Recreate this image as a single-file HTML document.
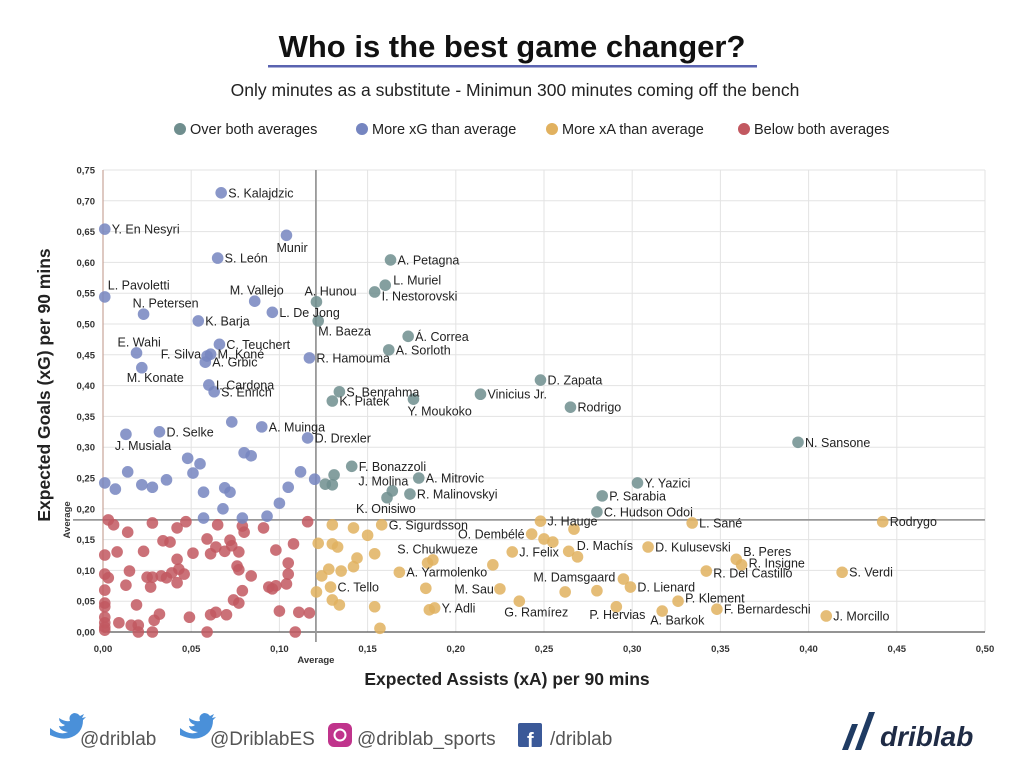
<!DOCTYPE html>
<html><head><meta charset="utf-8"><style>
body{margin:0;width:1024px;height:768px;background:#fff;font-family:"Liberation Sans",sans-serif;overflow:hidden;position:relative}
svg{position:absolute;left:0;top:0}
</style></head><body>
<svg id="chart" width="1024" height="768">
<text x="512" y="57" text-anchor="middle" font-size="31" font-weight="bold" fill="#111">Who is the best game changer?</text>
<rect x="268" y="65" width="489" height="2.5" fill="#5a63b0"/>
<text x="515" y="96" text-anchor="middle" font-size="17.5" fill="#222">Only minutes as a substitute - Minimun 300 minutes coming off the bench</text>
<g id="legend"></g>
<g id="grid"></g><g id="marks"></g><g id="labels"></g>
<text x="507" y="685" text-anchor="middle" font-size="17.5" font-weight="bold" fill="#222">Expected Assists (xA) per 90 mins</text>
<text transform="translate(50,385) rotate(-90)" text-anchor="middle" font-size="17.5" font-weight="bold" fill="#222">Expected Goals (xG) per 90 mins</text>
<g font-size="19" fill="#555">
<path d="M50 728 q10 8 18 4 q-8 -1 -9 -6 q4 1 6 -1 q-6 -2 -6 -7 q6 4 11 3 q-2 -6 4 -8 q4 0 6 3 l4 -2 l-2 4 l4 -1 l-3 3 q0 14 -14 18 q-8 2 -19 -3z" fill="#4a90d9"/>
<text x="80" y="745">@driblab</text>
<path d="M180 728 q10 8 18 4 q-8 -1 -9 -6 q4 1 6 -1 q-6 -2 -6 -7 q6 4 11 3 q-2 -6 4 -8 q4 0 6 3 l4 -2 l-2 4 l4 -1 l-3 3 q0 14 -14 18 q-8 2 -19 -3z" fill="#4a90d9"/>
<text x="210" y="745">@DriblabES</text>
<rect x="328" y="723" width="24" height="24" rx="6" fill="#c0348c"/>
<circle cx="340" cy="735" r="5.5" fill="none" stroke="#fff" stroke-width="2"/>
<text x="357" y="745">@driblab_sports</text>
<rect x="518" y="723" width="24" height="24" rx="2" fill="#3b5998"/>
<text x="527" y="747" font-size="20" font-weight="bold" fill="#fff">f</text>
<text x="550" y="745">/driblab</text>
<path d="M842 750 l10 -26 l6 0 l-10 26z M855 750 l14 -38 l6 0 l-14 38z" fill="#1f3b63"/>
<text x="880" y="746" font-size="28" font-weight="bold" font-style="italic" fill="#1f2b45">driblab</text>
</g>
</svg>
<script>
const NS="http://www.w3.org/2000/svg";
const xTicks=[0,0.05,0.10,0.15,0.20,0.25,0.30,0.35,0.40,0.45,0.50];
const yTicks=[0,0.05,0.10,0.15,0.20,0.25,0.30,0.35,0.40,0.45,0.50,0.55,0.60,0.65,0.70,0.75];
const avgX=0.1207, avgY=0.182;
const groups=["Over both averages","More xG than average","More xA than average","Below both averages"];
const groupColors=["#6f8e8e","#7585c0","#e1b15f","#c25860"];
// [xA, xG, label]
const teal=[[.121,.536,"A. Hunou"],[.163,.604,"A. Petagna"],[.160,.563,"L. Muriel"],[.154,.552,"I. Nestorovski"],[.122,.505,"M. Baeza"],[.173,.480,"Á. Correa"],[.162,.458,"A. Sorloth"],[.134,.390,"S. Benrahma"],[.130,.375,"K. Piatek"],[.248,.409,"D. Zapata"],[.214,.386,"Vinicius Jr."],[.176,.378,"Y. Moukoko"],[.265,.365,"Rodrigo"],[.394,.308,"N. Sansone"],[.141,.269,"F. Bonazzoli"],[.131,.255,""],[.130,.239,"J. Molina"],[.126,.240,""],[.179,.250,"A. Mitrovic"],[.174,.224,"R. Malinovskyi"],[.164,.229,""],[.161,.218,"K. Onisiwo"],[.303,.242,"Y. Yazici"],[.283,.221,"P. Sarabia"],[.280,.195,"C. Hudson Odoi"]];
const blue=[[.067,.713,"S. Kalajdzic"],[.001,.654,"Y. En Nesyri"],[.104,.644,"Munir"],[.065,.607,"S. León"],[.001,.544,"L. Pavoletti"],[.023,.516,"N. Petersen"],[.086,.537,"M. Vallejo"],[.096,.519,"L. De Jong"],[.054,.505,"K. Barja"],[.066,.467,"C. Teuchert"],[.019,.453,"E. Wahi"],[.059,.448,"F. Silva"],[.061,.451,"M. Koné"],[.058,.438,"A. Grbic"],[.022,.429,"M. Konate"],[.117,.445,"R. Hamouma"],[.060,.401,"I. Cardona"],[.063,.390,"S. Enrich"],[.090,.333,"A. Muinga"],[.116,.315,"D. Drexler"],[.032,.325,"D. Selke"],[.013,.321,"J. Musiala"],[.073,.341,""],[.001,.242,""],[.007,.232,""],[.014,.260,""],[.022,.239,""],[.028,.235,""],[.036,.247,""],[.048,.282,""],[.055,.273,""],[.051,.258,""],[.057,.227,""],[.069,.234,""],[.072,.227,""],[.068,.200,""],[.080,.291,""],[.084,.286,""],[.057,.185,""],[.079,.185,""],[.093,.188,""],[.100,.209,""],[.105,.235,""],[.112,.260,""],[.120,.248,""]];
const orange=[[.130,.174,""],[.142,.169,""],[.150,.157,""],[.158,.174,"G. Sigurdsson"],[.122,.144,""],[.130,.143,""],[.133,.138,""],[.154,.127,""],[.144,.120,""],[.142,.106,""],[.135,.099,""],[.128,.102,""],[.124,.091,""],[.121,.065,""],[.129,.073,"C. Tello"],[.130,.052,""],[.134,.044,""],[.154,.041,""],[.157,.006,""],[.168,.097,"A. Yarmolenko"],[.183,.071,""],[.184,.112,"S. Chukwueze"],[.187,.117,""],[.185,.036,""],[.188,.039,"Y. Adli"],[.221,.109,""],[.225,.070,"M. Sau"],[.236,.050,"G. Ramírez"],[.232,.130,"J. Felix"],[.243,.159,"O. Dembélé"],[.248,.180,"J. Hauge"],[.250,.151,""],[.255,.146,""],[.267,.167,""],[.264,.131,"D. Machís"],[.269,.122,""],[.295,.086,"M. Damsgaard"],[.262,.065,""],[.280,.067,""],[.299,.073,"D. Lienard"],[.291,.041,"P. Hervias"],[.317,.034,"A. Barkok"],[.326,.050,"P. Klement"],[.309,.138,"D. Kulusevski"],[.334,.177,"L. Sané"],[.348,.037,"F. Bernardeschi"],[.342,.099,"R. Del Castillo"],[.359,.118,"B. Peres"],[.362,.109,"R. Insigne"],[.419,.097,"S. Verdi"],[.410,.026,"J. Morcillo"],[.442,.179,"Rodrygo"]];
const red=[[.003,.182],[.006,.174],[.014,.162],[.028,.177],[.042,.169],[.047,.179],[.065,.174],[.079,.172],[.080,.162],[.091,.169],[.116,.179],[.034,.148],[.038,.146],[.059,.151],[.072,.149],[.073,.140],[.064,.138],[.061,.127],[.077,.130],[.098,.133],[.108,.143],[.001,.125],[.008,.130],[.023,.131],[.051,.128],[.069,.131],[.042,.118],[.105,.112],[.105,.094],[.076,.107],[.077,.101],[.001,.094],[.003,.088],[.015,.099],[.013,.076],[.025,.089],[.028,.089],[.033,.091],[.036,.088],[.039,.096],[.042,.080],[.043,.102],[.046,.094],[.027,.073],[.084,.091],[.094,.073],[.096,.070],[.098,.075],[.104,.078],[.079,.067],[.001,.068],[.001,.047],[.001,.041],[.001,.024],[.001,.015],[.001,.008],[.001,.003],[.019,.044],[.032,.029],[.029,.019],[.016,.011],[.020,.011],[.009,.015],[.020,.000],[.028,.000],[.049,.024],[.061,.028],[.064,.032],[.070,.028],[.074,.052],[.077,.047],[.059,.000],[.100,.034],[.111,.032],[.117,.031],[.109,.000]];
// label placement: [dx, dy, anchor]
const labelPlace={"Munir":[-10,12,"start"],"L. Pavoletti":[3,-12,"start"],"N. Petersen":[-11,-11,"start"],"M. Vallejo":[-25,-11,"start"],"E. Wahi":[-19,-11,"start"],"F. Silva":[-6,-2,"end"],"M. Konate":[-15,10,"start"],"J. Musiala":[-11,11,"start"],"A. Hunou":[-12,-11,"start"],"L. Muriel":[8,-5,"start"],"I. Nestorovski":[7,4,"start"],"M. Baeza":[0,10,"start"],"Y. Moukoko":[-6,12,"start"],"J. Molina":[26,-4,"start"],"K. Onisiwo":[-31,11,"start"],"O. Dembélé":[-7,0,"end"],"D. Machís":[8,-6,"start"],"A. Barkok":[-12,9,"start"],"P. Hervias":[-27,8,"start"],"G. Ramírez":[-15,11,"start"],"M. Damsgaard":[-8,-2,"end"],"M. Sau":[-6,0,"end"],"S. Chukwueze":[10,-14,"middle"],"B. Peres":[7,-8,"start"],"R. Insigne":[7,-2,"start"],"R. Del Castillo":[7,2,"start"],"P. Klement":[7,-3,"start"]};
const X0=103,X1=985,Y0=632,Y1=170;
const sx=v=>X0+v/0.5*(X1-X0), sy=v=>Y0-v/0.75*(Y0-Y1);
function mk(tag,attrs,parent){const e=document.createElementNS(NS,tag);for(const k in attrs)e.setAttribute(k,attrs[k]);parent.appendChild(e);return e;}
const grid=document.getElementById('grid'),marks=document.getElementById('marks'),labs=document.getElementById('labels'),leg=document.getElementById('legend');
xTicks.forEach(t=>{
 const l=mk('line',{x1:sx(t),x2:sx(t),y1:Y1,y2:Y0,stroke:'#e3e3e3'},grid);
 
 
 const tx=mk('text',{x:sx(t),y:652,'text-anchor':'middle','font-size':9.5,'font-weight':'bold',fill:'#333'},grid);
 tx.textContent=t.toFixed(2).replace('.',',');
 
 
});
yTicks.forEach(t=>{
 const l=mk('line',{x1:X0,x2:X1,y1:sy(t),y2:sy(t),stroke:'#e3e3e3'},grid);
 
 
 const tx=mk('text',{x:95,y:sy(t)+3.5,'text-anchor':'end','font-size':9.5,'font-weight':'bold',fill:'#333'},grid);
 tx.textContent=t.toFixed(2).replace('.',',');
 
 
});
const yl=mk('line',{x1:X0,x2:X0,y1:Y1,y2:Y0,stroke:'#c9a59a','stroke-width':1.2},grid);


const xl=mk('line',{x1:X0,x2:X1,y1:Y0,y2:Y0,stroke:'#555','stroke-width':1.2},grid);


const av1=mk('line',{x1:sx(avgX),x2:sx(avgX),y1:Y1,y2:Y0+10,stroke:'#999','stroke-width':1.8},grid);


const av2=mk('line',{x1:X0-30,x2:X1,y1:sy(avgY),y2:sy(avgY),stroke:'#999','stroke-width':1.8},grid);


const at1=mk('text',{x:sx(avgX),y:663,'text-anchor':'middle','font-size':9.5,'font-weight':'bold',fill:'#333'},grid);
at1.textContent='Average';


const at2=mk('text',{transform:`translate(70,${sy(avgY)}) rotate(-90)`,'text-anchor':'middle','font-size':9.5,'font-weight':'bold',fill:'#333'},grid);
at2.textContent='Average';


const legX=[173,355,545,737];
groups.forEach((g,i)=>{
 const c=mk('circle',{cx:legX[i]+7,cy:129,r:6,fill:groupColors[i]},leg);
 
 
 const t=mk('text',{x:legX[i]+17,y:134,'font-size':14.5,fill:'#222'},leg);
 t.textContent=g;
 
 
});
function draw(arr,color,name){
 arr.forEach(p=>{
  const c=mk('circle',{cx:sx(p[0]),cy:sy(p[1]),r:5.8,fill:color,'fill-opacity':0.85},marks);
  
  
  if(p[2]){
   const pl=labelPlace[p[2]]||[7,0,'start'];
   const t=mk('text',{x:sx(p[0])+pl[0],y:sy(p[1])+pl[1]+4.5,'text-anchor':pl[2],'font-size':12.5,fill:'#222'},labs);
   t.textContent=p[2];
   
   
  }
 });
}
draw(red,groupColors[3],'point-below-both');
draw(orange,groupColors[2],'point-more-xa');
draw(blue,groupColors[1],'point-more-xg');
draw(teal,groupColors[0],'point-over-both');
</script>
</body></html>
